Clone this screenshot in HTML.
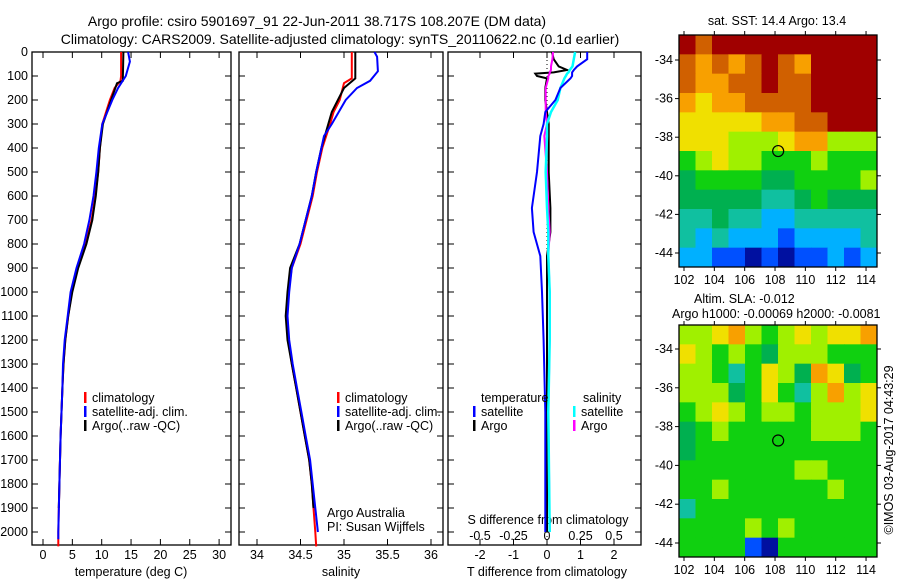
<!DOCTYPE html>
<html><head><meta charset="utf-8"><style>
html,body{margin:0;padding:0;background:#fff;}
svg{display:block;font-family:"Liberation Sans",sans-serif;}
text{font-size:12.5px;fill:#000;}
</style></head><body>
<svg id="fig" width="900" height="580" viewBox="0 0 900 580" xmlns="http://www.w3.org/2000/svg">
<text x="317" y="26" text-anchor="middle" style="font-size:14px">Argo profile: csiro 5901697_91 22-Jun-2011 38.717S 108.207E (DM data)</text>
<text x="340" y="44" text-anchor="middle" style="font-size:14px">Climatology: CARS2009. Satellite-adjusted climatology: synTS_20110622.nc (0.1d earlier)</text>
<g id="plots"></g>
<text x="777" y="25" text-anchor="middle">sat. SST: 14.4  Argo: 13.4</text>
<text x="694" y="303">Altim. SLA: -0.012</text>
<text x="672" y="318">Argo h1000: -0.00069 h2000: -0.0081</text>
<text transform="translate(893,450) rotate(-90)" text-anchor="middle">©IMOS 03-Aug-2017 04:43:29</text>
</svg>
<script>
// ---- data ----
const depthTicks=[0,100,200,300,400,500,600,700,800,900,1000,1100,1200,1300,1400,1500,1600,1700,1800,1900,2000];
const tTicks=[0,5,10,15,20,25,30];
const sTicks=[34,34.5,35,35.5,36];
const dTTicks=[-2,-1,0,1,2];
const dSTicks=[-0.5,-0.25,0,0.25,0.5];
const dSTickLabels=["-0.5","-0.25","0","0.25","0.5"];
const tClimDepth=[0,100,120,150,200,300,400,500,600,700,800,900,1000,1100,1200,1300,1400,1600,1800,2000,2060];
const tClim=[13.3,13.3,13.2,12.2,11.4,10.1,9.7,9.4,8.9,8.3,7.2,5.9,4.9,4.3,3.8,3.5,3.3,3.0,2.8,2.6,2.6];
const tSatDepth=[0,40,100,150,200,300,400,500,600,700,800,900,1000,1100,1200,1300,1400,1600,1800,2000,2030];
const tSat=[14.5,14.8,14.1,12.8,11.8,10.1,9.5,9.1,8.6,7.9,7.0,5.7,4.7,4.2,3.7,3.4,3.3,3.0,2.8,2.6,2.6];
const tArgoDepth=[0,120,130,200,300,400,500,600,700,800,900,1000,1100,1200,1300,1400,1600,1800,1900];
const tArgo=[13.7,13.6,12.6,11.6,10.2,9.7,9.4,9.0,8.4,7.4,6.0,5.0,4.3,3.8,3.5,3.3,3.0,2.8,2.7];
const sClimDepth=[0,110,130,200,250,300,400,500,600,700,800,900,1000,1100,1200,1300,1400,1500,1600,1700,1800,1900,2000,2060];
const sClim=[35.09,35.09,35.0,34.95,34.88,34.84,34.75,34.69,34.64,34.57,34.5,34.4,34.36,34.34,34.36,34.4,34.45,34.5,34.55,34.6,34.63,34.65,34.67,34.68];
const sSatDepth=[0,20,80,120,150,200,300,350,400,500,600,700,800,900,1000,1100,1200,1300,1400,1500,1600,1700,1800,1900,2000];
const sSat=[35.35,35.38,35.39,35.3,35.15,35.02,34.86,34.77,34.74,34.68,34.63,34.56,34.49,34.4,34.37,34.35,34.37,34.41,34.46,34.51,34.56,34.61,34.64,34.67,34.70];
const sArgoDepth=[0,110,150,200,250,300,400,500,600,700,800,900,1000,1100,1200,1300,1400,1500,1600,1700,1800,1900];
const sArgo=[35.13,35.13,35.0,34.93,34.86,34.82,34.74,34.68,34.63,34.56,34.49,34.38,34.35,34.33,34.35,34.4,34.45,34.5,34.55,34.6,34.63,34.65];
const dDepth=[0,30,60,75,85,90,100,110,150,200,250,300,350,500,650,750,850,1000,1200,1500,2000];
const dTSat=[1.2,1.2,0.9,0.8,0.75,0.75,0.75,0.7,0.4,0.25,-0.05,-0.1,-0.2,-0.3,-0.45,-0.4,-0.2,-0.15,-0.1,-0.05,-0.05];
const dTArgo=[0.15,0.2,0.35,0.6,0.2,-0.35,-0.3,0,-0.05,-0.05,0,0.05,0.05,0.05,0.1,0.1,0,0,0,0,0];
const dSSat=[0.21,0.2,0.19,0.17,0.16,0.15,0.14,0.13,0.1,0.08,0.03,0,0,-0.01,0,0.01,0.01,0.02,0.02,0.01,0.02];
const dSArgo=[0.045,0.04,0.03,0.03,0.02,0.02,0.01,0.01,-0.01,-0.01,-0.01,0,-0.02,0,0.01,0.02,0.01,0.02,0.02,0.01,0.02];
const mapLonTicks=[102,104,106,108,110,112,114];
const mapLatTicks=[-34,-36,-38,-40,-42,-44];
const sstGrid=[
[10,9,10,10,10,10,10,10,10,10,10,10],
[9,8,9,8,9,10,9,8,10,10,10,10],
[9,8,8,9,9,10,9,9,10,10,10,10],
[8,7,8,8,9,9,9,9,10,10,10,10],
[7,7,7,7,7,8,8,9,9,10,10,10],
[7,7,7,6,6,6,7,8,8,6,6,6],
[5,6,7,6,6,5,5,5,6,5,5,5],
[4,5,5,5,5,4,4,5,5,5,5,6],
[4,4,4,4,4,3,3,4,5,4,4,4],
[3,3,4,3,3,2,2,3,3,3,3,3],
[3,2,3,2,2,2,1,2,2,2,2,3],
[2,2,1,1,0,1,0,1,1,2,1,2]];
const slaGrid=[
[6,6,7,8,6,5,6,7,6,7,7,8],
[7,6,5,6,5,4,6,6,6,5,5,5],
[6,6,5,3,5,7,6,4,8,7,4,5],
[6,6,6,4,5,7,5,3,6,8,6,7],
[5,6,7,6,5,6,6,5,6,6,6,7],
[4,5,6,5,5,5,5,5,6,6,6,5],
[4,5,5,5,5,5,5,5,5,5,5,5],
[5,5,5,5,5,5,5,6,6,5,5,5],
[5,5,6,5,5,5,5,5,5,6,5,5],
[3,5,5,5,5,5,5,5,5,5,5,5],
[5,5,5,5,6,5,6,5,5,5,5,5],
[5,5,5,5,1,0,5,5,5,5,5,5]];
const argoLon=108.207, argoLat=-38.717;
// ---- drawing ----
const NS='http://www.w3.org/2000/svg';
const G=document.getElementById('plots');
function el(t,a,p){const e=document.createElementNS(NS,t);for(const k in a)e.setAttribute(k,a[k]);(p||G).appendChild(e);return e;}
const yD=d=>52+d*0.24;
const xT=v=>43+v*5.87;
const xS=v=>257+(v-34)*87;
const xDT=v=>547+v*33.5;
const xDS=v=>547+v*134;
const PT=545;
function frame(x0,x1,name){const r=el('rect',{x:x0,y:52,width:x1-x0,height:PT-52,fill:'none',stroke:'#000','stroke-width':1.3});
 depthTicks.forEach(d=>{el('line',{x1:x0,x2:x0+6,y1:yD(d),y2:yD(d),stroke:'#000'});el('line',{x1:x1-6,x2:x1,y1:yD(d),y2:yD(d),stroke:'#000'});});}
function xticks(vals,fx,labels,ylab,name){vals.forEach((v,i)=>{const x=fx(v);el('line',{x1:x,x2:x,y1:PT-6,y2:PT,stroke:'#000'});el('line',{x1:x,x2:x,y1:52,y2:58,stroke:'#000'});
 const t=el('text',{x:x,y:ylab,'text-anchor':'middle'});t.textContent=labels?labels[i]:v;});}
function line(xs,ds,fx,col,name,w){const pts=xs.map((v,i)=>fx(v).toFixed(1)+','+yD(ds[i]).toFixed(1)).join(' ');const p=el('polyline',{points:pts,fill:'none',stroke:col,'stroke-width':w||2});}
function txt(x,y,s,name,anchor){const t=el('text',{x:x,y:y,'text-anchor':anchor||'start'});t.textContent=s;return t;}
function legend(x,y,items){items.forEach((it,i)=>{el('rect',{x:x,y:y+i*14-6,width:2.5,height:11,fill:it[1]});txt(x+8,y+i*14+4,it[0],'legend-entry');});}
// panel 1
frame(32,231,'temperature-panel');
depthTicks.forEach(d=>txt(28,yD(d)+4,d,'depth-tick-label','end'));
xticks(tTicks,xT,null,559,'temperature-tick-label');
txt(131,576,'temperature (deg C)','temperature-axis-title','middle');
line(tClim,tClimDepth,xT,'#f00','temperature-climatology-line');
line(tArgo,tArgoDepth,xT,'#000','temperature-argo-line');
line(tSat,tSatDepth,xT,'#00f','temperature-satellite-line');
legend(84,398,[['climatology','#f00'],['satellite-adj. clim.','#00f'],['Argo(..raw -QC)','#000']]);
// panel 2
frame(239,443,'salinity-panel');
xticks(sTicks,xS,null,559,'salinity-tick-label');
txt(341,576,'salinity','salinity-axis-title','middle');
line(sClim,sClimDepth,xS,'#f00','salinity-climatology-line');
line(sArgo,sArgoDepth,xS,'#000','salinity-argo-line');
line(sSat,sSatDepth,xS,'#00f','salinity-satellite-line');
legend(337,398,[['climatology','#f00'],['satellite-adj. clim.','#00f'],['Argo(..raw -QC)','#000']]);
txt(327,517,'Argo Australia','argo-australia-note');
txt(327,531,'PI: Susan Wijffels','pi-note');
// panel 3
frame(448,641,'difference-panel');
xticks(dTTicks,xDT,null,559,'t-difference-tick-label');
dSTicks.forEach((v,i)=>txt(xDS(v),540,dSTickLabels[i],'s-difference-tick-label','middle'));
txt(548,524,'S difference from climatology','s-difference-axis-title','middle');
txt(547,576,'T difference from climatology','t-difference-axis-title','middle');
el('line',{x1:xDT(0),x2:xDT(0),y1:52,y2:PT,stroke:'#000','stroke-dasharray':'1,3'});
line(dTArgo,dDepth,xDT,'#000','t-diff-argo-line');
line(dSArgo,dDepth,xDS,'#f0f','s-diff-argo-line');
line(dSSat,dDepth,xDS,'#0ff','s-diff-satellite-line',2.5);
line(dTSat,dDepth,xDT,'#00f','t-diff-satellite-line');
txt(481,402,'temperature','legend-temperature-header');
txt(583,402,'salinity','legend-salinity-header');
legend(473,412,[['satellite','#00f'],['Argo','#000']]);
legend(573,412,[['satellite','#0ff'],['Argo','#f0f']]);
// maps
const pal=['#0010a0','#0050ff','#00b0ff','#10c0a0','#00b050','#10d010','#a0f000','#f0e000','#f8a000','#d06000','#a00000'];
function map(grid,y0,y1,latA,latB,name){const x0=679,x1=877;const fx=l=>684+(l-102)*15.17;const fy=l=>latA+(-(l+34))*(latB-latA)/10;
 const rows=grid.length,cols=grid[0].length,cw=(x1-x0)/cols,ch=(y1-y0)/rows;
 grid.forEach((r,i)=>r.forEach((v,j)=>{const c=el('rect',{x:x0+j*cw,y:y0+i*ch,width:cw+0.5,height:ch+0.5,fill:pal[v]});}));
 const b=el('rect',{x:x0,y:y0,width:x1-x0,height:y1-y0,fill:'none',stroke:'#000','stroke-width':1.3});
 mapLonTicks.forEach(l=>{const x=fx(l);el('line',{x1:x,x2:x,y1:y1,y2:y1+4,stroke:'#000'});el('line',{x1:x,x2:x,y1:y0-4,y2:y0,stroke:'#000'});txt(x,y1+17,l,name+'-lon-label','middle');});
 mapLatTicks.forEach(l=>{const y=fy(l);el('line',{x1:x0-4,x2:x0,y1:y,y2:y,stroke:'#000'});el('line',{x1:x1,x2:x1+4,y1:y,y2:y,stroke:'#000'});txt(x0-6,y+4,l,name+'-lat-label','end');});
 const c=el('circle',{cx:fx(argoLon),cy:fy(argoLat),r:5.5,fill:'none',stroke:'#000','stroke-width':1.2});}
map(sstGrid,35,267,60,253,'sst-map');
map(slaGrid,325,557,349,543,'sla-map');
</script>
</body></html>
